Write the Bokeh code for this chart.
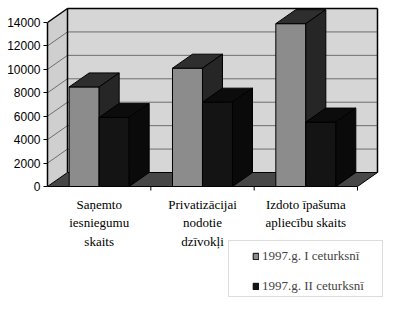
from bokeh.plotting import figure
from bokeh.models import Range1d, FixedTicker, Legend, LegendItem, BoxAnnotation
from bokeh.embed import file_html
from bokeh.resources import INLINE
from bokeh.core.properties import value

# ---- data ----
categories = ["Saņemto\niesniegumu\nskaits",
              "Privatizācijai\nnodotie\ndzīvokļi",
              "Izdoto īpašuma\napliecību skaits"]
series_names = ["1997.g. I ceturksnī", "1997.g. II ceturksnī"]
q1_values = [8500, 10100, 13900]
q2_values = [5900, 7200, 5500]
y_ticks = [0, 2000, 4000, 6000, 8000, 10000, 12000, 14000]

# ---- geometry (pixel scale of the front plane) ----
W, H = 400, 310
LEFT = 47
FLOOR_PX = 186
PX_PER_CAT = 103.33
PX_PER_VAL = 164 / 14000.0
DX = 20 / PX_PER_CAT          # depth offset in category units
DY = 14 / PX_PER_VAL          # depth offset in value units
BW = 30 / PX_PER_CAT          # bar width
NCAT = len(categories)
YMAX = y_ticks[-1]

def xd(px):
    return (px - LEFT) / PX_PER_CAT

def yd(py):
    return (FLOOR_PX - py) / PX_PER_VAL

p = figure(width=W, height=H, output_backend="svg", toolbar_location=None,
           x_range=Range1d(0, xd(W)), y_range=Range1d(yd(H), yd(0)),
           x_axis_type=None, min_border_left=LEFT, min_border_right=0,
           min_border_top=0, min_border_bottom=0)
p.outline_line_color = None
p.grid.visible = False
p.background_fill_color = "white"
p.border_fill_color = "white"

wall_fill = "#d6d6d6"
# back wall
p.quad(left=DX, right=NCAT + DX, bottom=DY, top=YMAX + DY,
       fill_color=wall_fill, line_color=None)
# left side wall
p.patch([0, DX, DX, 0], [0, DY, YMAX + DY, YMAX], fill_color="#cfcfcf", line_color=None)
# floor
p.patch([0, NCAT, NCAT + DX, DX], [0, 0, DY, DY], fill_color="#474747",
        line_color="black", line_width=1)

# gridlines
gx0, gy0, gx1, gy1 = [], [], [], []
for t in y_ticks[1:-1]:
    gx0 += [DX, 0]; gy0 += [t + DY, t]
    gx1 += [NCAT + DX, DX]; gy1 += [t + DY, t + DY]
p.segment(gx0, gy0, gx1, gy1, line_color="#6e6e6e", line_width=1)

# frame edges
p.segment([DX, NCAT + DX, DX, 0], [YMAX + DY, DY, DY, YMAX],
          [NCAT + DX, NCAT + DX, DX, DX], [YMAX + DY, YMAX + DY, YMAX + DY, YMAX + DY],
          line_color="black", line_width=1.5)

# category tick marks
cats_b = [i + 1 for i in range(NCAT)]
p.segment(cats_b, [0] * NCAT, cats_b, [-4 / PX_PER_VAL] * NCAT, line_color="black")

# ---- bars ----
styles = [
    dict(front="#8c8c8c", top="#2e2e2e", side="#262626"),
    dict(front="#141414", top="#0c0c0c", side="#0a0a0a"),
]
front_renderers = []
for s, vals in enumerate([q1_values, q2_values]):
    lefts = [c + 0.5 - BW + s * BW for c in range(NCAT)]
    rights = [l + BW for l in lefts]
    st = styles[s]
    fr = p.quad(left=lefts, right=rights, bottom=0, top=vals,
                fill_color=st["front"], line_color="black", line_width=1)
    front_renderers.append(fr)
    top_xs = [[l, r, r + DX, l + DX] for l, r in zip(lefts, rights)]
    top_ys = [[v, v, v + DY, v + DY] for v in vals]
    p.patches(top_xs, top_ys, fill_color=st["top"], line_color="black", line_width=1)
    side_xs = [[r, r + DX, r + DX, r] for r in rights]
    side_ys = [[0, DY, v + DY, v] for v in vals]
    p.patches(side_xs, side_ys, fill_color=st["side"], line_color="black", line_width=1)

# ---- y axis ----
ax = p.yaxis[0]
ax.ticker = FixedTicker(ticks=y_ticks)
ax.bounds = (0, YMAX)
ax.axis_line_color = "black"
ax.axis_line_width = 1.5
ax.major_tick_out = 4
ax.major_tick_in = 0
ax.minor_tick_out = 0
ax.minor_tick_in = 0
ax.major_label_standoff = 3
ax.major_label_text_font = "Liberation Sans"
ax.major_label_text_font_size = "12px"
ax.major_label_text_color = "black"

# ---- category labels ----
p.text(x=[c + 0.5 for c in range(NCAT)], y=[yd(196)] * NCAT, text=categories,
       text_align="center", text_baseline="top",
       text_font=value("Liberation Serif"), text_font_size="13px",
       text_line_height=1.25, text_color="black")

# ---- legend ----
p.add_layout(BoxAnnotation(left=xd(228), right=xd(382), top=yd(240), bottom=yd(296),
                           fill_alpha=0, line_color="#8a8a8a", line_width=1))
legend = Legend(items=[LegendItem(label=series_names[i], renderers=[front_renderers[i]])
                       for i in range(2)],
                location=(205, 16), padding=0, margin=0, spacing=14,
                glyph_width=7, glyph_height=8, label_height=16, label_standoff=3,
                label_text_font="Liberation Serif", label_text_font_size="13px",
                border_line_alpha=0, background_fill_alpha=0)
p.add_layout(legend)

open("out.html", "w").write(file_html(p, INLINE))
